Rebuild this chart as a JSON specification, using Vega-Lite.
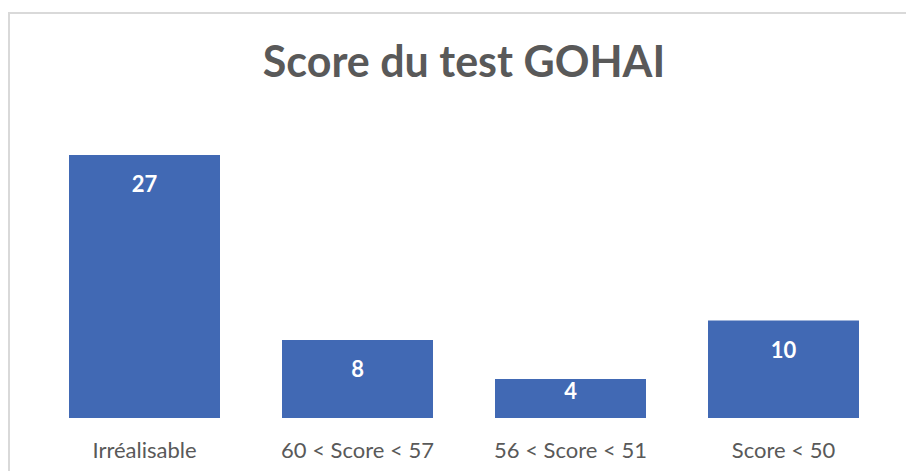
{
  "$schema": "https://vega.github.io/schema/vega-lite/v6.json",
  "autosize": "none",
  "padding": {"left": 9, "top": 13, "right": 0, "bottom": 0},
  "width": 910,
  "height": 467,
  "background": "white",
  "title": {
    "text": "Score du test GOHAI",
    "font": "Lato",
    "fontSize": 43,
    "fontWeight": "bold",
    "color": "#595959",
    "anchor": "middle",
    "frame": "group",
    "baseline": "alphabetic",
    "offset": -66,
    "dy": 41
  },
  "data": {
    "values": [
      {"cat": "Irréalisable", "v": 27},
      {"cat": "60 < Score < 57", "v": 8},
      {"cat": "56 < Score < 51", "v": 4},
      {"cat": "Score < 50", "v": 10}
    ]
  },
  "encoding": {
    "x": {
      "field": "cat",
      "type": "nominal",
      "sort": null,
      "title": null,
      "scale": {"paddingInner": 0.2911, "paddingOuter": 0.2817},
      "axis": {
        "orient": "bottom",
        "offset": -62,
        "domain": false,
        "ticks": false,
        "labelAngle": 0,
        "labelFont": "Lato",
        "labelFontSize": 22,
        "labelColor": "#595959",
        "labelBaseline": "alphabetic",
        "labelPadding": 39
      }
    }
  },
  "layer": [
    {
      "mark": {"type": "bar", "color": "#4169B4"},
      "encoding": {
        "y": {
          "field": "v",
          "type": "quantitative",
          "scale": {"domain": [-6.37, 41.58], "nice": false, "zero": false},
          "axis": null
        }
      }
    },
    {
      "transform": [{"filter": "datum.v >= 5"}],
      "mark": {"type": "text", "color": "white", "font": "Lato", "fontSize": 22, "fontWeight": "bold", "baseline": "alphabetic", "dy": 37},
      "encoding": {
        "y": {"field": "v", "type": "quantitative"},
        "text": {"field": "v", "type": "quantitative"}
      }
    },
    {
      "transform": [{"filter": "datum.v < 5"}],
      "mark": {"type": "text", "color": "white", "font": "Lato", "fontSize": 22, "fontWeight": "bold", "baseline": "alphabetic", "dy": -19},
      "encoding": {
        "y": {"datum": 0, "type": "quantitative"},
        "text": {"field": "v", "type": "quantitative"}
      }
    }
  ],
  "config": {
    "view": {"stroke": "#D9D9D9", "strokeWidth": 2}
  }
}
